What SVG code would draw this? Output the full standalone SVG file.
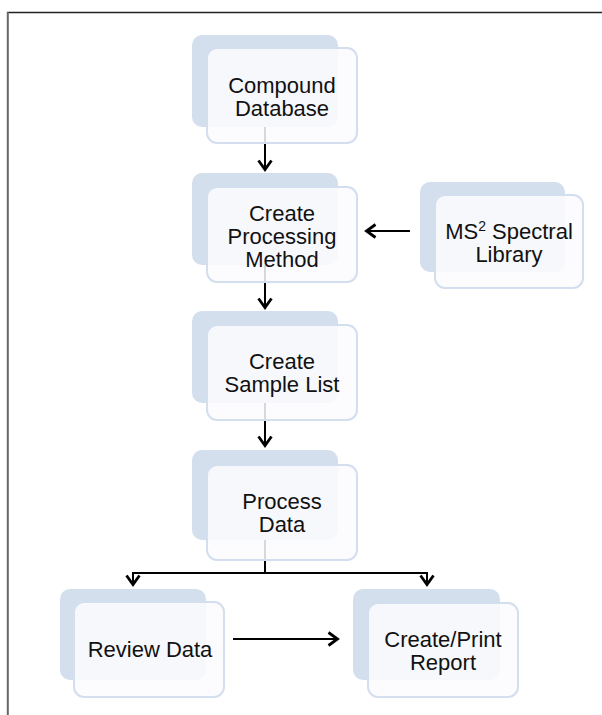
<svg xmlns="http://www.w3.org/2000/svg" width="602" height="715" viewBox="0 0 602 715">
  <style>
    .back { fill: #d4dfee; }
    .front { fill: #fbfcfe; fill-opacity: 0.86; stroke: #d3deee; stroke-width: 2; }
    .label { font-family: "Liberation Sans", Arial, sans-serif; font-size: 22px; fill: #111; text-anchor: middle; }
    .conn { fill: none; stroke: #000; stroke-width: 2; }
  </style>
  <defs>
    <marker id="chev" markerUnits="userSpaceOnUse" markerWidth="14" markerHeight="18" refX="11.5" refY="8" orient="auto">
      <path d="M2,1.5 L11,8 L2,14.5" fill="none" stroke="#000" stroke-width="2.8"/>
    </marker>
  </defs>

  <rect width="602" height="715" fill="#fff"/>

  <!-- frame -->
  <line x1="7" y1="12.5" x2="602" y2="12.5" stroke="#222" stroke-width="1.6"/>
  <line x1="7.8" y1="12" x2="7.8" y2="715" stroke="#666" stroke-width="2"/>

  <!-- connectors (drawn under the translucent cards) -->
  <g id="connectors">
    <line class="conn" x1="265" y1="127" x2="265" y2="170" marker-end="url(#chev)"/>
    <line class="conn" x1="410" y1="231" x2="366" y2="231" marker-end="url(#chev)"/>
    <line class="conn" x1="265" y1="265" x2="265" y2="308" marker-end="url(#chev)"/>
    <line class="conn" x1="265" y1="403" x2="265" y2="446" marker-end="url(#chev)"/>
    <path class="conn" d="M265,540 V573"/>
    <path class="conn" d="M265,573 H133 V585" marker-end="url(#chev)"/>
    <path class="conn" d="M265,573 H427 V585" marker-end="url(#chev)"/>
    <line class="conn" x1="233" y1="639" x2="338" y2="639" marker-end="url(#chev)"/>
  </g>

  <g id="compound-database">
    <rect class="back" x="192" y="35" width="146" height="92" rx="10"/>
    <rect class="front" x="207" y="48" width="150" height="95" rx="10"/>
    <text class="label" x="282" y="93">Compound</text>
    <text class="label" x="282" y="116">Database</text>
  </g>

  <g id="create-processing-method">
    <rect class="back" x="192" y="173" width="146" height="92" rx="10"/>
    <rect class="front" x="207" y="187" width="150" height="95" rx="10"/>
    <text class="label" x="282" y="221">Create</text>
    <text class="label" x="282" y="244">Processing</text>
    <text class="label" x="282" y="267">Method</text>
  </g>

  <g id="ms2-spectral-library">
    <rect class="back" x="420" y="182" width="145" height="90" rx="10"/>
    <rect class="front" x="435" y="195" width="148" height="93" rx="10"/>
    <text class="label" x="509" y="239">MS<tspan font-size="14" dy="-8">2</tspan><tspan dy="8"> Spectral</tspan></text>
    <text class="label" x="509" y="262">Library</text>
  </g>

  <g id="create-sample-list">
    <rect class="back" x="192" y="311" width="146" height="92" rx="10"/>
    <rect class="front" x="207" y="325" width="150" height="95" rx="10"/>
    <text class="label" x="282" y="369">Create</text>
    <text class="label" x="282" y="392">Sample List</text>
  </g>

  <g id="process-data">
    <rect class="back" x="192" y="450" width="146" height="90" rx="10"/>
    <rect class="front" x="207" y="465" width="150" height="95" rx="10"/>
    <text class="label" x="282" y="509">Process</text>
    <text class="label" x="282" y="532">Data</text>
  </g>

  <g id="review-data">
    <rect class="back" x="60" y="589" width="146" height="91" rx="10"/>
    <rect class="front" x="74" y="602" width="150" height="95" rx="10"/>
    <text class="label" x="150" y="657">Review Data</text>
  </g>

  <g id="create-print-report">
    <rect class="back" x="353" y="589" width="147" height="91" rx="10"/>
    <rect class="front" x="368" y="603" width="150" height="94" rx="10"/>
    <text class="label" x="443" y="647">Create/Print</text>
    <text class="label" x="443" y="670">Report</text>
  </g>
</svg>
